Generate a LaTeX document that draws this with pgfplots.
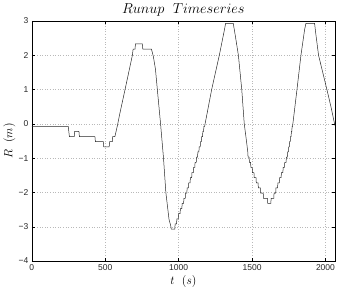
\documentclass[border=0pt]{standalone}
\usepackage{pgfplots}
\pgfplotsset{compat=1.18}
\usepackage{fontspec}
\setmainfont{Liberation Sans}
\begin{document}
\begin{tikzpicture}
\begin{axis}[
  name=ax,
  scale only axis,
  width=303.2pt, height=240pt,
  xmin=0, xmax=2065, ymin=-4, ymax=3,
  xtick={0,500,1000,1500,2000},
  ytick={-4,-3,-2,-1,0,1,2,3},
  yticklabels={−4,−3,−2,−1,0,1,2,3},
  /pgf/number format/assume math mode=true,
  /pgf/number format/1000 sep={},
  tick label style={font=\fontsize{8.5}{10}\selectfont, text=black!85},
  tick align=inside,
  major tick length=3pt,
  tick style={black, line width=0.4pt},
  axis line style={black, line width=0.5pt},
  grid=major,
  major grid style={gray!55, line width=0.4pt, dash pattern=on 0.8pt off 1.8pt},
  title={$Runup\ \ Timeseries$},
  title style={font=\fontsize{15}{17}\selectfont, at={(axis description cs:0.5,1)}, anchor=base, yshift=1.7pt},
  xlabel={$t\ \ (s)$},
  ylabel={$R\ \ (m)$},
  label style={font=\fontsize{13}{15}\selectfont},
  xlabel style={at={(axis description cs:0.5,0)}, anchor=base, yshift=-23.5pt},
  ylabel style={at={([xshift=-19.3pt]axis description cs:0,0.5)}, anchor=base},
]
\addplot[black!85, line width=0.5pt] coordinates {
(0,-0.07)(248,-0.07)(252,-0.22)(256,-0.37)(289,-0.37)(292,-0.22)(321,-0.22)(324,-0.37)
(430,-0.37)(433,-0.52)(487,-0.52)(490,-0.67)(527,-0.67)(530,-0.52)(548,-0.52)(551,-0.37)
(566,-0.37)(582,-0.07)(600,0.31)(635,1)(685,2)(690,2.18)(703,2.18)(706,2.33)(753,2.33)
(756,2.18)(815,2.18)(828,1.96)(842,1.6)(855,1)(877,0)(897,-1)(913,-2)(935,-2.8)(945,-2.95)
(950,-3.07)(974,-3.07)
(976,-2.92)(986,-2.92)(988,-2.77)(998,-2.77)(1000,-2.62)(1010,-2.62)(1012,-2.47)(1022,-2.47)
(1024,-2.32)(1034,-2.32)(1036,-2.17)(1045,-2.17)(1047,-2.02)(1056,-2.02)(1058,-1.87)(1067,-1.87)
(1069,-1.72)(1078,-1.72)(1080,-1.57)(1089,-1.57)(1091,-1.42)(1100,-1.42)(1102,-1.27)(1110,-1.27)
(1112,-1.12)(1120,-1.12)(1122,-0.97)(1129,-0.97)(1131,-0.82)(1138,-0.82)(1140,-0.67)(1147,-0.67)
(1149,-0.52)(1155,-0.52)(1157,-0.37)(1163,-0.37)(1165,-0.22)(1170,-0.22)(1172,-0.07)(1177,-0.07)
(1225,1)(1277,2)(1310,2.7)(1320,2.93)(1372,2.93)(1385,2.6)(1407,2)(1430,1)(1447,0)(1462,-0.5)
(1471,-0.82)(1473,-0.97)(1480,-0.97)(1482,-1.12)(1490,-1.12)(1492,-1.27)(1501,-1.27)
(1503,-1.42)(1513,-1.42)(1515,-1.57)(1527,-1.57)(1529,-1.72)(1541,-1.72)(1543,-1.87)(1556,-1.87)
(1558,-2.02)(1576,-2.02)(1578,-2.17)(1605,-2.17)(1607,-2.32)(1628,-2.32)(1630,-2.17)(1648,-2.17)
(1650,-2.02)(1661,-2.02)(1663,-1.87)(1674,-1.87)(1676,-1.72)(1686,-1.72)(1688,-1.57)(1698,-1.57)
(1700,-1.42)(1710,-1.42)(1712,-1.27)(1721,-1.27)(1723,-1.12)(1732,-1.12)(1734,-0.97)(1741,-0.97)
(1743,-0.82)(1748,-0.82)(1750,-0.67)(1754,-0.67)(1756,-0.52)(1760,-0.52)(1762,-0.37)(1766,-0.37)
(1768,-0.22)(1771,-0.22)(1773,-0.07)(1776,-0.07)
(1806,1)(1833,2)(1858,2.75)(1867,2.93)(1926,2.93)(1935,2.6)(1953,2)(2010,1)(2040,0.45)(2062,0)(2065,-0.05)
};
\end{axis}
\pgfresetboundingbox
\path[use as bounding box] ([xshift=-31.8pt,yshift=-30pt]ax.south west) rectangle ([xshift=3pt,yshift=21pt]ax.north east);
\end{tikzpicture}
\end{document}
